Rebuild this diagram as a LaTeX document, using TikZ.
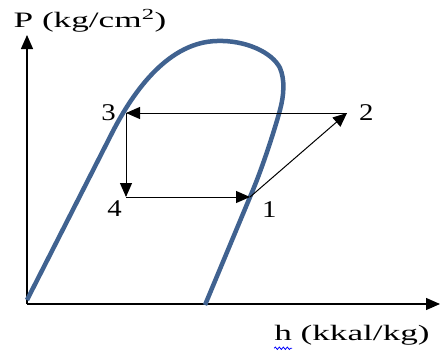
\documentclass[tikz,border=0pt]{standalone}
\usepackage{fontspec}
\setmainfont{Liberation Serif}
\newfontfamily\axisfont[FakeStretch=1.6]{Liberation Serif}
\newfontfamily\numfont[FakeStretch=1.2]{Liberation Serif}
\usetikzlibrary{positioning,arrows.meta,decorations.pathmorphing}
\definecolor{domeblue}{RGB}{64,98,144}

\begin{document}
\begin{tikzpicture}[x=1pt, y=-1pt, >={Triangle[length=14pt,width=12pt]}]
  \tikzstyle{num}=[inner sep=0pt, font=\numfont\fontsize{24}{28}\selectfont]
  \tikzstyle{lab}=[inner sep=0pt, font=\axisfont\fontsize{22}{26}\selectfont]
  \tikzstyle{cyc}=[->, line width=1pt]
  \useasboundingbox (0,0) rectangle (441,356);

  % axes
  \coordinate (O) at (27,304);
  \coordinate (Ytip) at (27,35);
  \coordinate (Xtip) at (440,304);
  \draw[->, line width=1.3pt] (O) -- (Ytip);
  \draw[->, line width=1.3pt] (O) -- (Xtip);
  \node[lab] (P) at (90,21) {P (kg/cm\textsuperscript{2})};
  \node[lab] (h) at (352,335) {h (kkal/kg)};
  \draw[blue, line width=0.8pt, decorate,
        decoration={snake, segment length=4pt, amplitude=1.2pt}]
    ([shift={(0,8)}]h.base west) -- ++(18,0);

  % saturation dome
  \draw[domeblue, line width=4.5pt]
    (27,300) -- (112,133)
    .. controls (135,88) and (170,42) .. (217,41)
    .. controls (245,40) and (272,52) .. (280,68)
    .. controls (285,80) and (284,95) .. (280,110)
    .. controls (276,125) and (263,167) .. (250,197)
    -- (205,305);

  % cycle
  \coordinate (s1) at (250,197);
  \coordinate (s2) at (347,113);
  \coordinate (s3) at (126,113);
  \coordinate (s4) at (126,197);
  \draw[cyc] (s1) -- (s2);
  \draw[cyc] (s2) -- (s3);
  \draw[cyc] (s3) -- (s4);
  \draw[cyc] (s4) -- (s1);

  \node[num, left=10pt of s3] (n3) {3};
  \node[num, right=12pt of s2] (n2) {2};
  \node[num, below left=3pt and 4pt of s4] (n4) {4};
  \node[num, below right=4pt and 12pt of s1] (n1) {1};
\end{tikzpicture}
\end{document}
